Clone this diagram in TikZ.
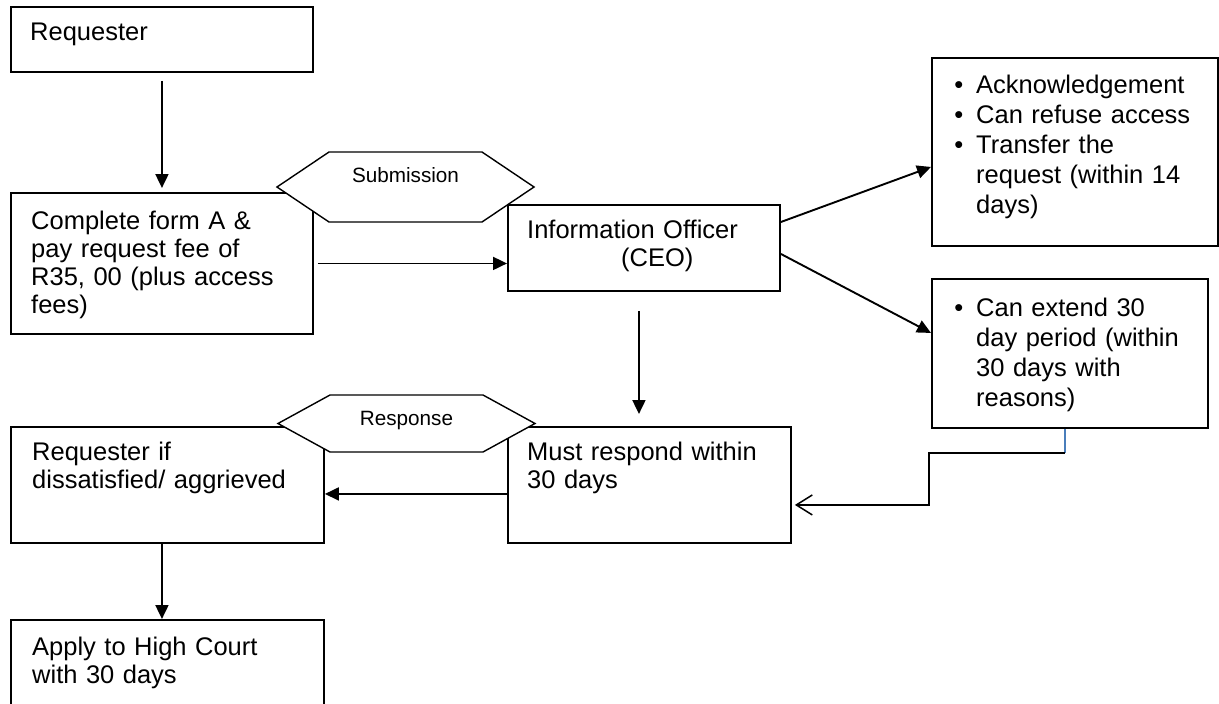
\documentclass[tikz,border=0pt]{standalone}
\usepackage{fontspec}
\setmainfont{Liberation Sans}
\usetikzlibrary{arrows.meta}
\definecolor{linkblue}{RGB}{74,126,187}
\newcommand{\bulletmark}{\leavevmode\llap{\textbullet\hspace{13pt}}}

\begin{document}
\begin{tikzpicture}[
            x=1pt, y=-1pt,                 % pixel grid, y downwards
            box/.style={draw, line width=1.9pt, anchor=north west, inner sep=0pt},
            txt/.style={anchor=base west, inner sep=0pt, text width=300pt, align=left,
                        font=\fontsize{25.5}{28}\selectfont},
            bullets/.style={txt, font=\fontsize{25.5}{30}\selectfont},
            hexlabel/.style={anchor=base, inner sep=0pt, font=\fontsize{20.7}{24}\selectfont},
            hexline/.style={draw, fill=white, line width=1.4pt},
            arrow/.style={-{Triangle[length=14pt,width=13pt]}, line width=1.9pt},
            elbow/.style={-{Straight Barb[length=16pt,width=20pt,line width=1.5pt]}, line width=1.9pt},
            blueline/.style={draw=linkblue, line width=1.3pt}
        ]
            \useasboundingbox (0,0) rectangle (1219,704);
            \clip (0,0) rectangle (1219,704);

            % boxes
            \node[box, minimum width=302pt, minimum height=65pt]  (req)   at (10,6)    {};
            \node[box, minimum width=302pt, minimum height=141pt] (form)  at (10,192)  {};
            \node[box, minimum width=272pt, minimum height=86pt]  (io)    at (507,204) {};
            \node[box, minimum width=286pt, minimum height=188pt] (ack)   at (931,57)  {};
            \node[box, minimum width=276pt, minimum height=149pt] (ext)   at (931,278) {};
            \node[box, minimum width=313pt, minimum height=116pt] (dis)   at (10,426)  {};
            \node[box, minimum width=283pt, minimum height=116pt] (must)  at (507,426) {};
            \node[box, minimum width=313pt, minimum height=100pt] (court) at (10,619)  {};

            % hexagons
            \coordinate (subhex) at (405.5,187);
            \draw[hexline] (subhex) ++(-128.5,0) -- ++(52,-35) -- ++(153,0) -- ++(52,35)
                -- ++(-52,35) -- ++(-153,0) -- cycle;
            \node[hexlabel] (sub) at ([yshift=5pt]subhex) {Submission};
            \coordinate (reshex) at (406.5,423.5);
            \draw[hexline] (reshex) ++(-128.5,0) -- ++(52,-28.5) -- ++(153,0) -- ++(52,28.5)
                -- ++(-52,28.5) -- ++(-153,0) -- cycle;
            \node[hexlabel] (res) at ([yshift=-2pt]reshex) {Response};

            % texts
            \node[txt] (req-t) at ([xshift=20pt,yshift=-34pt]req.north west) {Requester};
            \node[txt] (form-t) at ([xshift=21pt,yshift=-37pt]form.north west)
                {Complete form A \&\\pay request fee of\\R35, 00 (plus access\\fees)};
            \node[txt] (io-t) at ([xshift=20pt,yshift=-34pt]io.north west)
                {Information Officer\\\hspace*{94pt}(CEO)};
            \node[bullets] (ack-t) at ([xshift=45pt,yshift=-36pt]ack.north west)
                {\bulletmark Acknowledgement\\
                 \bulletmark Can refuse access\\
                 \bulletmark Transfer the\\request (within 14\\days)};
            \node[bullets] (ext-t) at ([xshift=45pt,yshift=-38pt]ext.north west)
                {\bulletmark Can extend 30\\day period (within\\30 days with\\reasons)};
            \node[txt] (dis-t) at ([xshift=22pt,yshift=-34pt]dis.north west)
                {Requester if\\dissatisfied/ aggrieved};
            \node[txt] (must-t) at ([xshift=20pt,yshift=-34pt]must.north west)
                {Must respond within\\30 days};
            \node[txt] (court-t) at ([xshift=22pt,yshift=-36pt]court.north west)
                {Apply to High Court\\with 30 days};

            % arrows
            \draw[arrow, shorten <=8pt, shorten >=4pt] (req.south) -- (form.north);
            \draw[arrow, shorten <=4pt] (form.east) -- (form.east -| io.west);
            \draw[arrow] ([yshift=-18pt]io.north east) -- ([yshift=-15pt]ack.west);
            \draw[arrow] ([yshift=-6pt]io.east) -- ([yshift=20.5pt]ext.west);
            \draw[arrow, shorten <=19pt, shorten >=12pt] ([xshift=-5pt]io.south)
                -- ([xshift=-5pt]io.south |- must.north);
            \draw[arrow] ([yshift=-9pt]must.west) -- ([yshift=-9pt]dis.east);
            \draw[arrow] (dis.south -| req.south) -- (court.north -| req.south);

            % extension back to the response
            \coordinate (bend) at ([xshift=-5pt,yshift=-24pt]ext.south);
            \coordinate (turn) at ([xshift=137pt,yshift=-20pt]must.east);
            \draw[blueline] ([xshift=-5pt]ext.south) -- (bend);
            \draw[elbow, shorten >=3pt] (bend) -| (turn) -- ([yshift=-20pt]must.east);
        \end{tikzpicture}
\end{document}
